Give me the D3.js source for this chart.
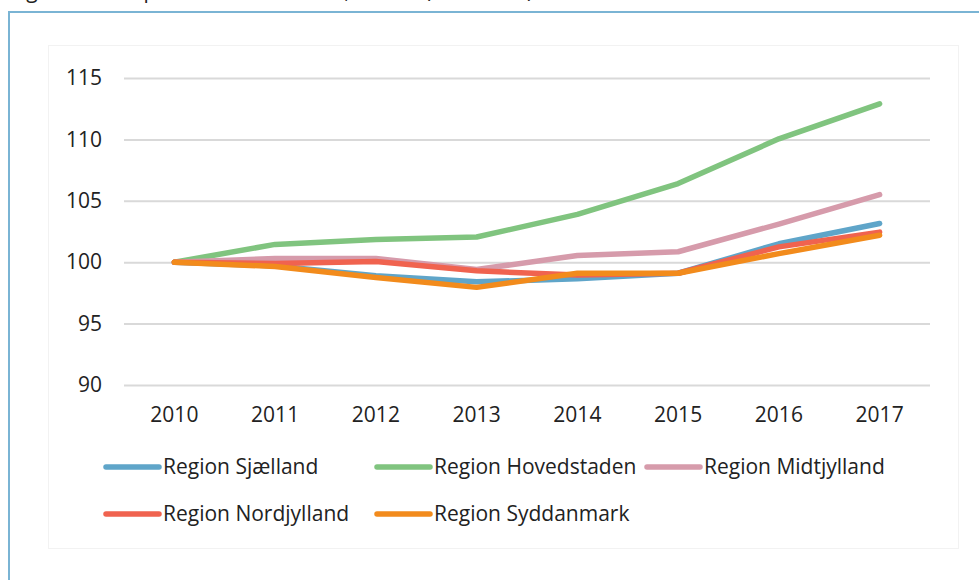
<!DOCTYPE html>
<html>
<head>
<meta charset="utf-8">
<script src="https://cdn.jsdelivr.net/npm/d3@7"></script>
<style>
  body { margin: 0; background: #fff; }
  svg { display: block; font-family: "Open Sans", sans-serif; }
</style>
</head>
<body>
<svg id="chart" width="979" height="580"></svg>
<script>
// chart data
const years = ["2010", "2011", "2012", "2013", "2014", "2015", "2016", "2017"];
const yTicks = [90, 95, 100, 105, 110, 115];

const sjaelland = [100, 99.7, 98.9, 98.4, 98.65, 99.1, 101.5, 103.15];
const hovedstaden = [100, 101.45, 101.85, 102.05, 103.9, 106.4, 110.05, 112.9];
const midtjylland = [100, 100.3, 100.3, 99.4, 100.55, 100.85, 103.1, 105.5];
const nordjylland = [100, 99.9, 100.05, 99.3, 98.95, 99.1, 101.25, 102.45];
const syddanmark = [100, 99.65, 98.75, 97.95, 99.1, 99.1, 100.7, 102.2];

const series = [
  { name: "Region Sjælland", values: sjaelland, color: "#5fa5c9" },
  { name: "Region Hovedstaden", values: hovedstaden, color: "#80c47f" },
  { name: "Region Midtjylland", values: midtjylland, color: "#d69bab" },
  { name: "Region Nordjylland", values: nordjylland, color: "#f0634f" },
  { name: "Region Syddanmark", values: syddanmark, color: "#f28b1c" },
];

const svg = d3.select("#chart");
const textColor = "#222";

// caption above the frame (cropped off in the source picture)
svg.append("text")
  .attr("x", 10)
  .attr("y", -2)
  .attr("font-size", "21px")
  .attr("fill", textColor)
  .text("Figur 4: Antal personer i alt fordelt, indeks (2010=100)");

// outer frame
svg.append("rect")
  .attr("x", 9).attr("y", 12)
  .attr("width", 1000).attr("height", 600)
  .attr("fill", "#fff")
  .attr("stroke", "#7ab4d4")
  .attr("stroke-width", 2);

// chart area
svg.append("rect")
  .attr("x", 48.5).attr("y", 45.5)
  .attr("width", 910).attr("height", 503)
  .attr("fill", "#fff")
  .attr("stroke", "#f2f2f2");

// scales
const x = d3.scaleBand().domain(years).range([124, 930]);
const y = d3.scaleLinear().domain([90, 115]).range([385, 78]);
const cx = (d) => x(d) + x.bandwidth() / 2;

// gridlines + y labels
const yAxis = d3.axisLeft(y).tickValues(yTicks).tickSize(-(930 - 124)).tickPadding(22);
const gy = svg.append("g").attr("transform", "translate(124,0)").call(yAxis);
gy.select(".domain").remove();
gy.selectAll(".tick line").attr("stroke", "#d9d9d9").attr("stroke-width", 2);
gy.selectAll(".tick text")
  .attr("font-size", "21px")
  .attr("font-family", "Open Sans, sans-serif")
  .attr("fill", textColor);

// x labels
const xAxis = d3.axisBottom(x).tickSize(0).tickPadding(22);
const gx = svg.append("g").attr("transform", "translate(0,385)").call(xAxis);
gx.select(".domain").remove();
gx.selectAll(".tick text")
  .attr("font-size", "21px")
  .attr("font-family", "Open Sans, sans-serif")
  .attr("fill", textColor);

// lines
const line = d3.line()
  .x((d, i) => cx(years[i]))
  .y((d) => y(d));

svg.append("g")
  .selectAll("path")
  .data(series)
  .enter()
  .append("path")
  .attr("d", (d) => line(d.values))
  .attr("fill", "none")
  .attr("stroke", (d) => d.color)
  .attr("stroke-width", 5.5)
  .attr("stroke-linecap", "round")
  .attr("stroke-linejoin", "round");

// legend
const legendPos = [[104, 467], [375, 467], [645, 467], [104, 514], [375, 514]];
const legend = svg.append("g")
  .selectAll("g")
  .data(series)
  .enter()
  .append("g")
  .attr("transform", (d, i) => `translate(${legendPos[i][0]},${legendPos[i][1]})`);

legend.append("line")
  .attr("x1", 2).attr("x2", 55)
  .attr("y1", 0).attr("y2", 0)
  .attr("stroke", (d) => d.color)
  .attr("stroke-width", 5.5)
  .attr("stroke-linecap", "round");

legend.append("text")
  .attr("x", 59)
  .attr("y", 0)
  .attr("dy", "0.35em")
  .attr("font-size", "21px")
  .attr("fill", textColor)
  .text((d) => d.name);
</script>
</body>
</html>
